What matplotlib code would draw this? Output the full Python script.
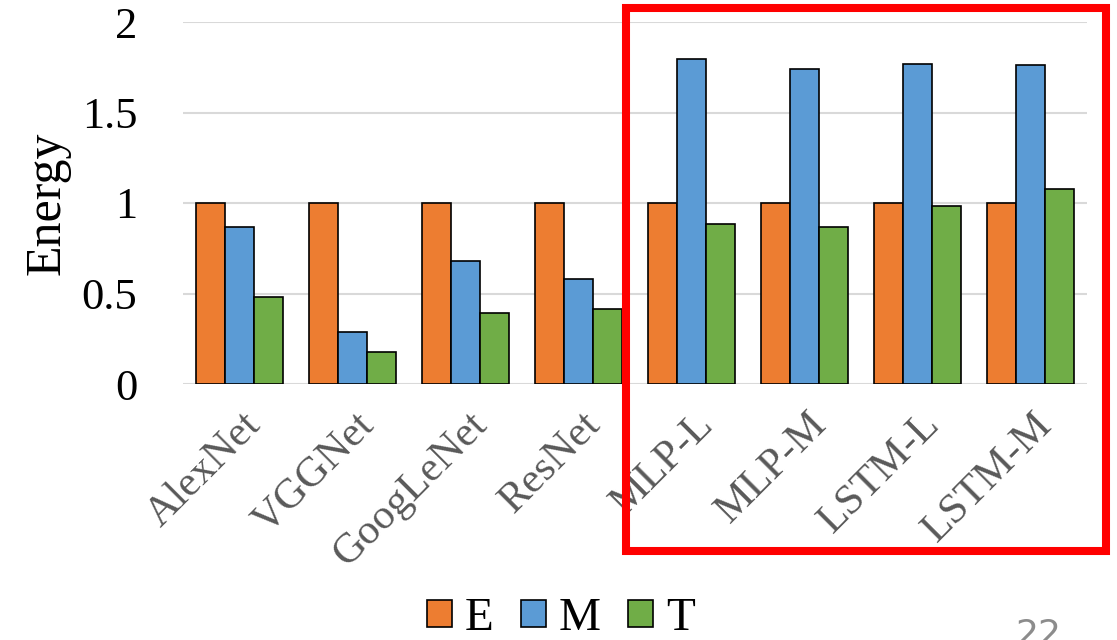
import matplotlib
matplotlib.use("Agg")
import matplotlib.pyplot as plt
from matplotlib.patches import Rectangle
from matplotlib.transforms import ScaledTranslation
import numpy as np

# data
models = ["AlexNet", "VGGNet", "GoogLeNet", "ResNet", "MLP-L", "MLP-M", "LSTM-L", "LSTM-M"]
energy_E = [1.0, 1.0, 1.0, 1.0, 1.0, 1.0, 1.0, 1.0]
energy_M = [0.867, 0.286, 0.677, 0.579, 1.797, 1.743, 1.766, 1.762]
energy_T = [0.478, 0.179, 0.395, 0.413, 0.885, 0.870, 0.981, 1.077]
series_names = ["E", "M", "T"]
colors = ["#ED7D31", "#5B9BD5", "#70AD47"]
yticks = [0, 0.5, 1, 1.5, 2]
ytick_labels = ["0", "0.5", "1", "1.5", "2"]

plt.rcParams["font.family"] = ["Liberation Serif", "DejaVu Serif"]

fig = plt.figure(figsize=(11.17, 6.4), dpi=100)
ax = fig.add_axes([183 / 1117, 1 - 384 / 640, 904 / 1117, 362 / 640])

x = np.arange(len(models))
w = 0.256
for i, (vals, name) in enumerate(zip([energy_E, energy_M, energy_T], series_names)):
    ax.bar(x + (i - 1) * w, vals, width=w, color=colors[i], edgecolor="black",
           linewidth=1.2, label=name, zorder=3)

ax.set_xlim(-0.5, len(models) - 0.5)
ax.set_ylim(0, 2)
ax.set_yticks(yticks)
ax.set_yticklabels(ytick_labels, fontsize=32, color="black")
ax.grid(axis="y", color="#d9d9d9", linewidth=1.5, zorder=0)
ax.tick_params(axis="y", length=0, pad=33)
ax.tick_params(axis="x", length=0, pad=25)
for s in ["top", "right", "left", "bottom"]:
    ax.spines[s].set_visible(False)

ax.set_xticks(x)
ax.set_xticklabels(models, rotation=45, ha="right", va="center",
                   rotation_mode="anchor", fontsize=30.5, color="#595959")
# nudge the slanted labels right so they end just past the group centre
shift = ScaledTranslation(0.16, 0, fig.dpi_scale_trans)
for lab in ax.get_xticklabels():
    lab.set_transform(lab.get_transform() + shift)

ax.set_ylabel("Energy", fontsize=36, labelpad=8)

fig.legend(loc="center", bbox_to_anchor=(561 / 1117, 1 - 619 / 640), ncol=3,
           frameon=False, fontsize=34, handlelength=0.53, handleheight=0.53,
           handletextpad=0.28, columnspacing=0.57, borderpad=0)

# red highlight box
fig.patches.append(Rectangle((626 / 1117, 1 - 550.5 / 640), 480 / 1117, 542.2 / 640,
                             transform=fig.transFigure, fill=False,
                             edgecolor="#FF0000", linewidth=5.8, zorder=10))

# slide number, cut at the bottom edge
fig.text(1038 / 1117, 1 - 618 / 640, "22", ha="center", va="top", fontsize=26,
         color="#8c8c8c", family="DejaVu Sans")

fig.savefig("out.png", dpi=100)
